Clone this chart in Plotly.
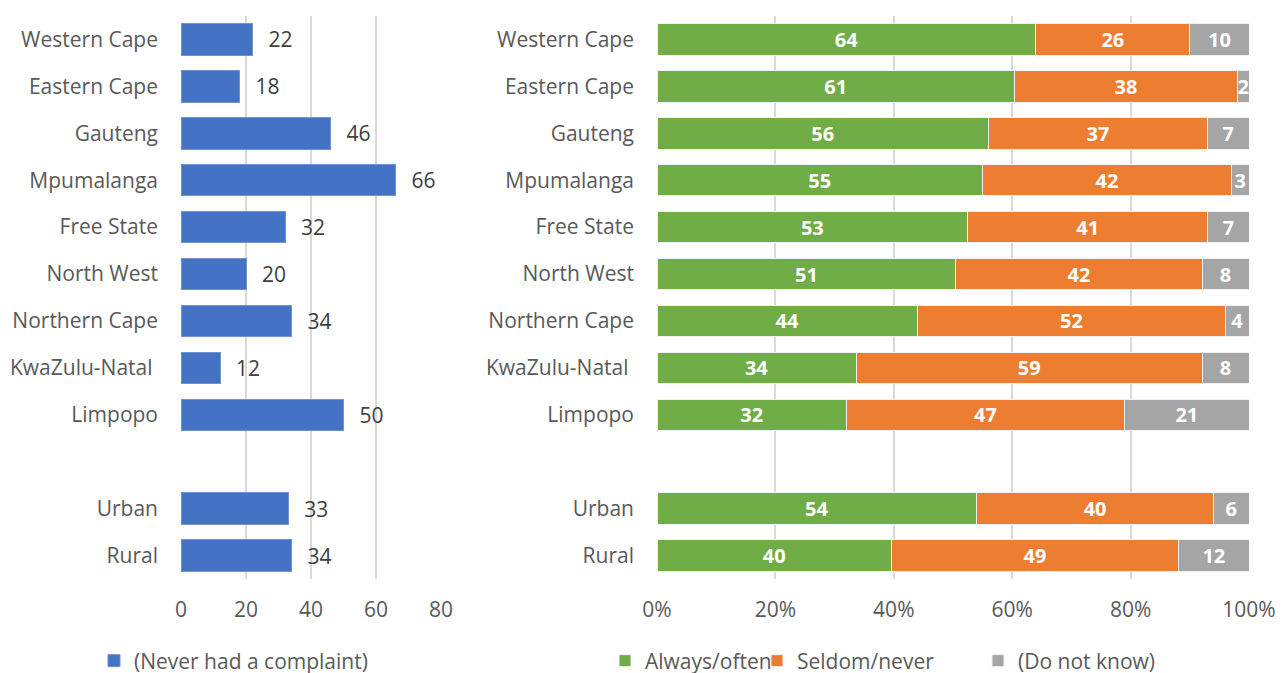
import plotly.graph_objects as go

# the page adds an 8px body margin, so the figure is drawn 8px smaller
OFF = 8
W, H = 1287 - OFF, 673 - OFF

# categories, top to bottom (" " is the gap row between provinces and urban/rural)
regions = ["Western Cape", "Eastern Cape", "Gauteng", "Mpumalanga", "Free State",
           "North West", "Northern Cape", "KwaZulu-Natal ", "Limpopo", " ",
           "Urban", "Rural"]

never_complaint = [22, 18, 46, 66, 32, 20, 34, 12, 50, None, 33, 34]

always_often = [64, 61, 56, 55, 53, 51, 44, 34, 32, None, 54, 40]
seldom_never = [26, 38, 37, 42, 41, 42, 52, 59, 47, None, 40, 49]
do_not_know = [10, 2, 7, 3, 7, 8, 4, 8, 21, None, 6, 12]

left_ticks = [0, 20, 40, 60, 80]
right_ticks = [0, 20, 40, 60, 80, 100]
right_ticklabels = ["0%", "20%", "40%", "60%", "80%", "100%"]

FONT = "Open Sans"
GREY_TXT = "#595959"
GRID = "#D9D9D9"
FS = 21


def px_x(p):
    return (p - OFF) / W


def px_y(p):
    return 1 - (p - OFF) / H


# 100% stacked: each row scaled to its own total, labels keep the survey values
totals = [None if a is None else a + b + c
          for a, b, c in zip(always_often, seldom_never, do_not_know)]


def share(vals):
    return [None if v is None else v / t * 100 for v, t in zip(vals, totals)]


fig = go.Figure()

fig.add_trace(go.Bar(
    y=regions, x=never_complaint, orientation="h",
    name="(Never had a complaint)", showlegend=True,
    marker=dict(color="#4472C4", line=dict(color="#6F93D3", width=1)),
    text=[v if v is not None else "" for v in never_complaint],
    texttemplate="\u00a0\u00a0\u200a%{text}",
    textposition="outside", cliponaxis=False, textangle=0,
    textfont=dict(family=FONT, size=FS, color="#404040"),
    xaxis="x", yaxis="y", legend="legend",
    hoverinfo="skip",
))

series = [("Always/often", always_often, "#70AD47", "legend2"),
          ("Seldom/never", seldom_never, "#ED7D31", "legend3"),
          ("(Do not know)", do_not_know, "#A5A5A5", "legend4")]

for name, vals, col, leg in series:
    fig.add_trace(go.Bar(
        y=regions, x=share(vals), orientation="h", name=name, showlegend=True,
        marker=dict(color=col, line=dict(color="#F2F2F2", width=1)),
        text=[v if v is not None else "" for v in vals],
        textposition="inside", insidetextanchor="middle", textangle=0,
        textfont=dict(family=FONT, size=FS - 1, color="white", weight="bold"),
        constraintext="none",
        xaxis="x2", yaxis="y2", legend=leg,
        hoverinfo="skip",
    ))

yax = dict(
    type="category", categoryorder="array", categoryarray=regions,
    autorange="reversed", showgrid=False, zeroline=False, showline=False,
    ticks="", ticklabelstandoff=22, automargin=False,
    tickfont=dict(family=FONT, size=FS, color=GREY_TXT),
    domain=[px_y(579), px_y(16)],
)

xax = dict(
    showgrid=True, gridcolor=GRID, gridwidth=1.5,
    zeroline=False, showline=False, ticklabelstandoff=16, automargin=False,
    tickfont=dict(family=FONT, size=FS, color=GREY_TXT),
)


def leg(x_px):
    return dict(
        orientation="h", x=px_x(x_px), y=px_y(661), xanchor="left", yanchor="middle",
        font=dict(family=FONT, size=FS, color=GREY_TXT),
        itemwidth=30, bgcolor="rgba(0,0,0,0)",
    )


fig.update_layout(
    width=W, height=H,
    margin=dict(l=0, r=0, t=0, b=0, autoexpand=False),
    paper_bgcolor="white", plot_bgcolor="white",
    showlegend=True,
    barmode="stack", bargap=0.33,
    font=dict(family=FONT, color=GREY_TXT),
    xaxis=dict(xax, domain=[px_x(181), px_x(441)], range=[0, 80],
               tickvals=left_ticks, anchor="y"),
    yaxis=dict(yax, anchor="x"),
    xaxis2=dict(xax, domain=[px_x(657), px_x(1249)], range=[0, 100],
                tickvals=right_ticks, ticktext=right_ticklabels, anchor="y2"),
    yaxis2=dict(yax, anchor="x2"),
    legend=leg(94),
    legend2=leg(605),
    legend3=leg(757),
    legend4=leg(978),
)

fig.write_html("out.html")
